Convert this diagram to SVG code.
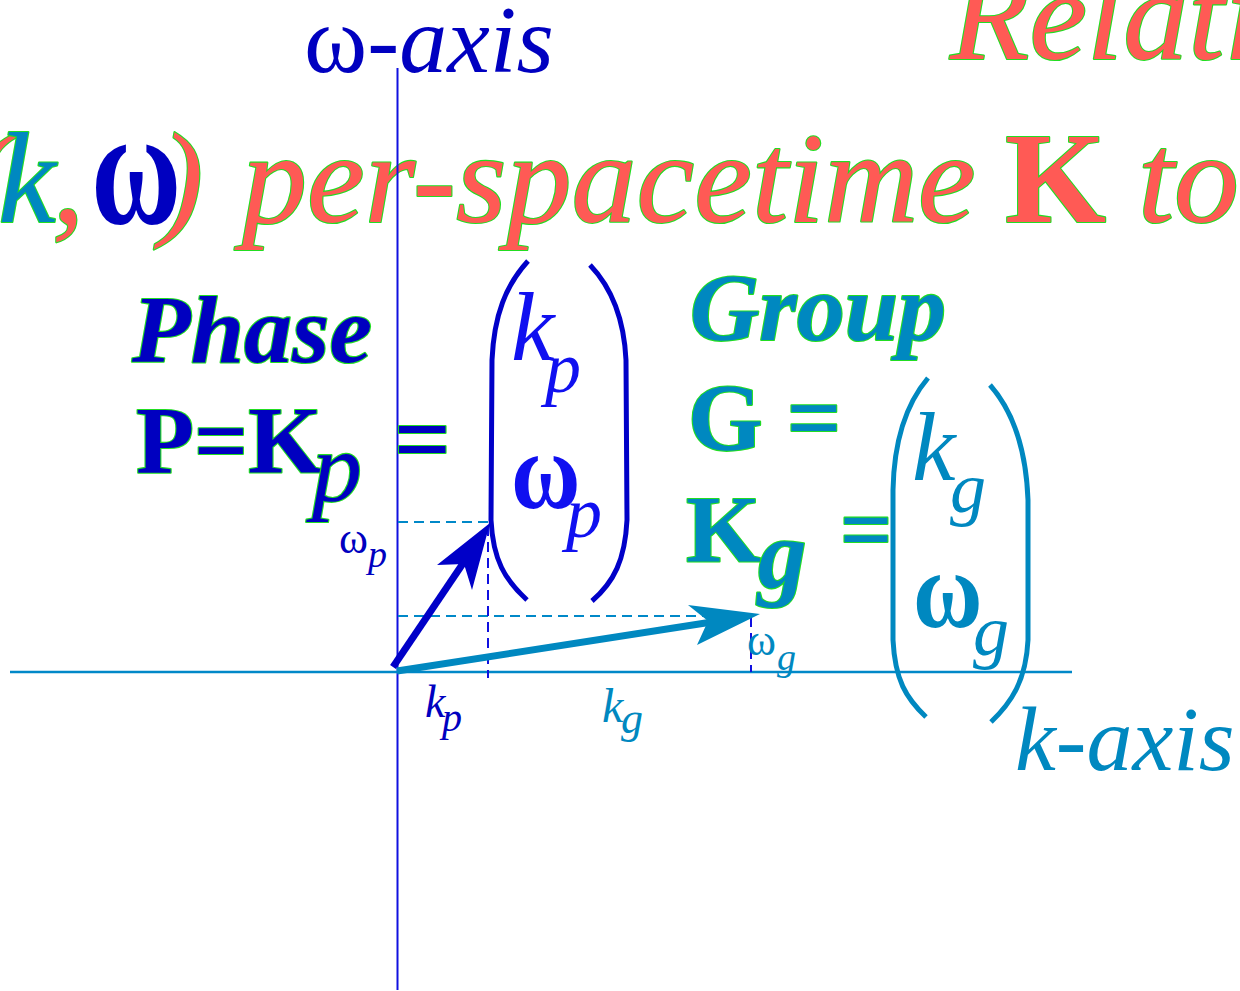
<svg xmlns="http://www.w3.org/2000/svg" width="1240" height="991" viewBox="0 0 1240 991">
<style>
text{font-family:"Liberation Serif","Times New Roman",serif}
.it{font-style:italic}
.b{font-weight:bold}
.gs{stroke:#22DD22;stroke-width:2.2;paint-order:stroke;stroke-linejoin:round}
.red{fill:#FF5A55}
.dk{fill:#0000C0}
.br{fill:#1010F0}
.tl{fill:#0088C0}
.paren{fill:none;stroke-width:5;stroke-linecap:butt}
.dash{fill:none;stroke-width:2;stroke-dasharray:10 6}
</style>
<rect width="1240" height="991" fill="#FFFFFF"/>
<g id="title">
<text x="950" y="59" font-size="130" class="it red gs">Relati</text>
<text y="222" font-size="130" class="gs"><tspan x="-33" class="it red">(</tspan><tspan x="-2" class="it tl">k</tspan><tspan x="52" class="it red">,</tspan><tspan x="160" class="it red">)</tspan><tspan x="242" class="it red">per-spacetime</tspan><tspan x="1005" class="b red">K</tspan><tspan x="1138" class="it red">to</tspan></text>
<text transform="translate(91,223) scale(0.95,1.28)" font-size="130" class="b dk">ω</text>
</g>
<g id="axes">
<line x1="397.5" y1="68" x2="397.5" y2="990" stroke="#1010E0" stroke-width="2"/>
<line x1="10" y1="672" x2="1072" y2="672" stroke="#0088C8" stroke-width="2.5"/>
<text x="304" y="72" font-size="96" class="dk">ω<tspan class="it">-axis</tspan></text>
<text x="1015" y="770" font-size="92" class="it tl">k-axis</text>
</g>
<g id="connectors">
<line x1="398" y1="522" x2="490" y2="522" class="dash" stroke="#0088C8"/>
<line x1="398" y1="616" x2="748" y2="616" class="dash" stroke="#0088C8"/>
<line x1="488" y1="526" x2="488" y2="678" class="dash" stroke="#1010E0"/>
<line x1="751" y1="617" x2="751" y2="672" class="dash" stroke="#1010E0"/>
<line x1="393" y1="667" x2="468" y2="556" stroke="#0000C8" stroke-width="7"/>
<polygon points="490,523 437,565 464,564 472,590" fill="#0000C8"/>
<line x1="397" y1="671" x2="712" y2="622" stroke="#0088C0" stroke-width="7"/>
<polygon points="760,614 688,605 708,621 697,645" fill="#0088C0"/>
</g>
<g id="phase">
<text x="132" y="362" font-size="96" class="b it dk gs">Phase</text>
<text x="136" y="473" font-size="95" class="b dk gs">P=K</text>
<text x="312" y="501" font-size="100" class="it dk gs">p</text>
<text x="394" y="473" font-size="100" class="b dk gs">=</text>
<path class="paren" stroke="#0000C8" d="M528,261 C506,285 494,315 492,360 L491,520 C493,560 505,580 527,600"/>
<path class="paren" stroke="#0000C8" d="M590,265 C612,288 624,318 626,360 L627,520 C625,560 614,582 592,601"/>
<text x="511" y="360" font-size="98" class="it br">k</text>
<text x="545" y="392" font-size="72" class="it br">p</text>
<text transform="translate(511,508) scale(1,1.15)" font-size="95" class="b br">ω</text>
<text x="566" y="537" font-size="72" class="it br">p</text>
<text x="339" y="553" font-size="44" class="dk">ω</text>
<text x="368" y="567" font-size="38" class="it dk">p</text>
<text x="425" y="717" font-size="46" class="it dk">k</text>
<text x="442" y="731" font-size="40" class="it dk">p</text>
</g>
<g id="group">
<text x="690" y="340" font-size="96" class="b it tl gs">Group</text>
<text x="688" y="450" font-size="96" class="b tl gs">G =</text>
<text x="686" y="562" font-size="96" class="b tl gs">K</text>
<text x="758" y="587" font-size="97" class="b it tl gs">g</text>
<text x="840" y="560" font-size="92" class="b tl gs">=</text>
<path class="paren" stroke="#0088C0" d="M928,378 C906,404 894,440 893,490 L893,640 C895,680 906,698 926,717"/>
<path class="paren" stroke="#0088C0" d="M990,385 C1012,410 1026,446 1028,500 L1028,640 C1026,680 1012,702 991,722"/>
<text x="912" y="480" font-size="98" class="it tl">k</text>
<text x="950" y="512" font-size="72" class="it tl">g</text>
<text transform="translate(913,627) scale(1,1.15)" font-size="95" class="b tl">ω</text>
<text x="973" y="655" font-size="72" class="it tl">g</text>
<text x="602" y="722" font-size="48" class="it tl">k</text>
<text x="621" y="733" font-size="44" class="it tl">g</text>
<text x="747" y="655" font-size="44" class="tl">ω</text>
<text x="777" y="670" font-size="38" class="it tl">g</text>
</g>
</svg>
